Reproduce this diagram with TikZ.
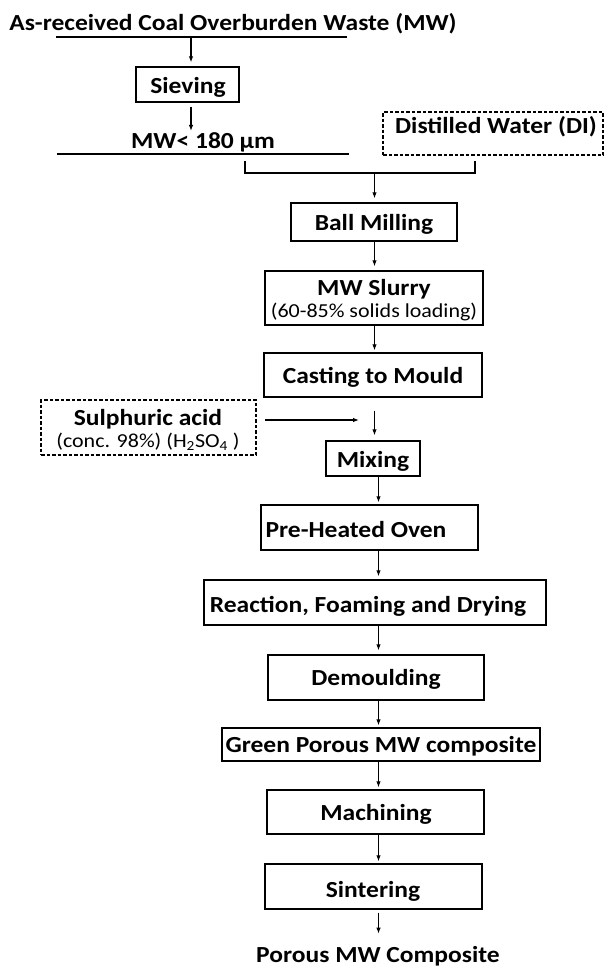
\documentclass[tikz,border=0pt]{standalone}
\usepackage{fontspec}
\setmainfont[FakeStretch=1.11]{Carlito}
\usetikzlibrary{arrows.meta}
\begin{document}
\begin{tikzpicture}[x=1pt,y=-1pt,
  box/.style={draw,line width=1.4pt,rectangle,inner sep=0pt},
  dbox/.style={draw,line width=1.1pt,dash pattern=on 3.5pt off 2pt,rectangle,inner sep=0pt},
  lbl/.style={font=\fontsize{23}{27}\selectfont\bfseries,inner sep=0pt,anchor=base},
  sml/.style={font=\fontsize{19.8}{23}\selectfont,inner sep=0pt,anchor=base},
  arr/.style={line width=1.1pt,-{Latex[length=6pt,width=4.5pt]}},
  ln/.style={line width=1.3pt}]
\useasboundingbox (0,0) rectangle (605,967);
\fill[white] (0,0) rectangle (605,967);
% spines
\coordinate (spA) at (374.5,0);
\coordinate (spB) at (378.5,0);
\coordinate (spS) at (191,0);
% title and first lines
\node[lbl] (title) at (233,30) {As-received Coal Overburden Waste (MW)};
\coordinate (t1) at (56,37); \coordinate (t2) at (347,37);
\draw[ln] (t1) -- (t2);
\node[box,minimum width=103pt,minimum height=35pt] (sieve) at (187.5,84.5) {};
\node[lbl] (sievet) at (188,93) {Sieving};
\draw[arr,shorten >=4pt] (t1 -| spS) -- (sieve.north -| spS);
\node[lbl] (mw) at (203,148) {MW< 180 µm};
\coordinate (m1) at (57,154); \coordinate (m2) at (349,154);
\draw[ln] (m1) -- (m2);
\draw[arr,shorten <=4pt,shorten >=1pt] (sieve.south -| spS) -- (mw.north -| spS);
% distilled water
\node[dbox,minimum width=220pt,minimum height=43pt] (water) at (493,133.5) {};
\node[lbl] (watert) at (496,133) {Distilled Water (DI)};
% bracket
\coordinate (b1) at (245,161); \coordinate (b2) at (245,173);
\coordinate (b3) at (475,173); \coordinate (b4) at (475,161);
\draw[line width=1.2pt] (b1) -- (b2) -- (b3) -- (b4);
% ball milling
\node[box,minimum width=166pt,minimum height=38pt] (ball) at (374,222) {};
\node[lbl] (ballt) at (374,230) {Ball Milling};
\draw[arr,shorten >=4pt] (b2 -| spA) -- (ball.north -| spA);
% slurry
\node[box,minimum width=218pt,minimum height=54pt] (slurry) at (374,298) {};
\node[lbl] (slurryt) at (374,295) {MW Slurry};
\node[sml] (slurrys) at (374,317) {(60-85\% solids loading)};
\draw[arr,shorten >=4pt] (ball.south -| spA) -- (slurry.north -| spA);
% casting
\node[box,minimum width=218pt,minimum height=44pt] (cast) at (373,375) {};
\node[lbl] (castt) at (373,383) {Casting to Mould};
\draw[arr,shorten >=2pt] (slurry.south -| spA) -- (cast.north -| spA);
% acid
\node[dbox,minimum width=215pt,minimum height=55pt] (acid) at (148.5,427.5) {};
\node[lbl] (acidt) at (148,425) {Sulphuric acid};
\node[sml] (acids) at (148,447) {(conc. 98\%) (H\textsubscript{2}SO\textsubscript{4} )};
\coordinate (a1) at (265,420); \coordinate (a2) at (359,420);
\draw[arr] (a1) -- (a2);
% mixing
\node[box,minimum width=94pt,minimum height=35pt] (mix) at (373,458.5) {};
\node[lbl] (mixt) at (373,467) {Mixing};
\draw[arr,shorten <=13pt,shorten >=5pt] (cast.south -| spA) -- (mix.north -| spA);
% oven
\node[box,minimum width=217pt,minimum height=45pt] (oven) at (369.5,527.5) {};
\node[lbl] (ovent) at (356,537) {Pre-Heated Oven};
\draw[arr,shorten >=2pt] (mix.south -| spB) -- (oven.north -| spB);
% reaction
\node[box,minimum width=342pt,minimum height=45pt] (react) at (375,602.5) {};
\node[lbl] (reactt) at (368,612) {Reaction, Foaming and Drying};
\draw[arr,shorten >=3pt] (oven.south -| spB) -- (react.north -| spB);
% demoulding
\node[box,minimum width=216pt,minimum height=45pt] (demould) at (376,677.5) {};
\node[lbl] (demouldt) at (376,685) {Demoulding};
\draw[arr,shorten >=4pt] (react.south -| spB) -- (demould.north -| spB);
% green
\node[box,minimum width=318pt,minimum height=33pt] (green) at (381,744.5) {};
\node[lbl] (greent) at (381,752) {Green Porous MW composite};
\draw[arr,shorten >=2pt] (demould.south -| spB) -- (green.north -| spB);
% machining
\node[box,minimum width=217pt,minimum height=44pt] (mach) at (375.5,812) {};
\node[lbl] (macht) at (376,820) {Machining};
\draw[arr,shorten >=2pt] (green.south -| spB) -- (mach.north -| spB);
% sintering
\node[box,minimum width=217pt,minimum height=45pt] (sinter) at (373.5,886.5) {};
\node[lbl] (sintert) at (373,897) {Sintering};
\draw[arr,shorten >=2pt] (mach.south -| spB) -- (sinter.north -| spB);
% final
\node[lbl] (final) at (378,962) {Porous MW Composite};
\draw[arr,shorten <=3pt,shorten >=12pt] (sinter.south -| spB) -- (final.north -| spB);
\end{tikzpicture}
\end{document}
